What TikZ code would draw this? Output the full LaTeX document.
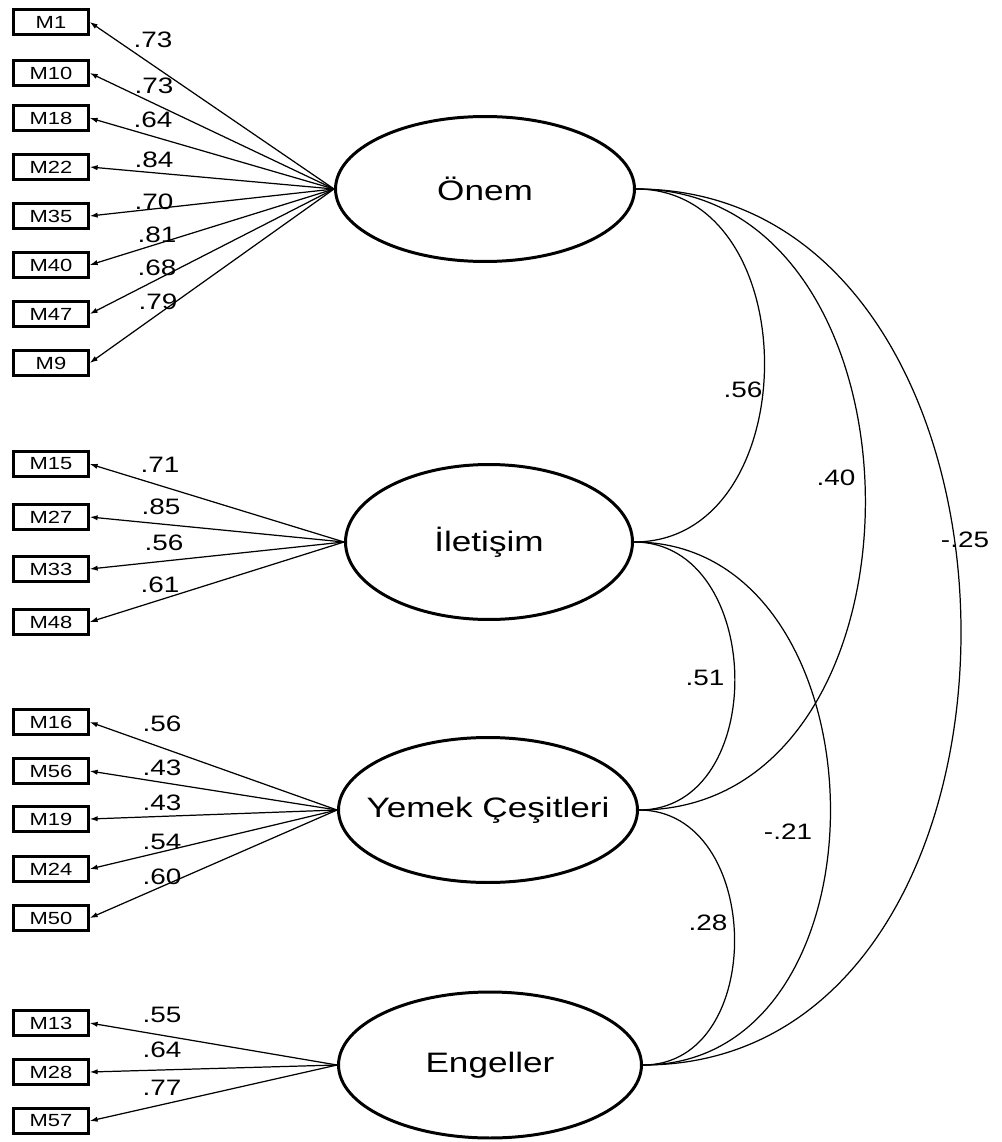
\documentclass[tikz,border=0pt]{standalone}
\usepackage{fontspec}
\setmainfont{Liberation Sans}[FakeStretch=1.25]
\usetikzlibrary{shapes.geometric,arrows.meta,positioning}

\tikzset{
  item/.style={draw, line width=1.4pt, minimum width=1.5cm, minimum height=0.5cm,
    inner sep=0pt, font=\fontsize{10}{12}\selectfont},
  factor/.style={draw, ellipse, line width=1.7pt, inner sep=0pt},
  factorname/.style={font=\fontsize{16}{19}\selectfont},
  load/.style={-{Latex[length=4.5pt,width=3pt]}, line width=0.7pt},
  corr/.style={line width=0.7pt, out=0, in=0, looseness=1.25},
  coef/.style={inner sep=0pt, font=\fontsize{12.7}{15}\selectfont}
}

\begin{document}
\begin{tikzpicture}[x=0.02cm, y=-0.02cm]
    \useasboundingbox (0,0) rectangle (1001,1142);

    % --- LATENS FAKTOROK ---
    \node[factor, minimum width=5.98cm, minimum height=2.9cm,
        label={[factorname]center:Önem}] (onem) at (485,189) {};
    \node[factor, minimum width=5.74cm, minimum height=3.1cm,
        label={[factorname]center:İletişim}] (ilet) at (489,542) {};
    \node[factor, minimum width=5.98cm, minimum height=2.9cm,
        label={[factorname]center:Yemek Çeşitleri}] (yemek) at (488,810) {};
    \node[factor, minimum width=6.06cm, minimum height=2.92cm,
        label={[factorname]center:Engeller}] (engel) at (490,1065) {};

    % --- Önem indikátorai ---
    \foreach \nm/\yy/\lab/\lx/\ly in {M1/22/.73/153/40, M10/73/.73/154/86, M18/118/.64/153/120,
        M22/167/.84/154/160, M35/216/.70/154/202, M40/265/.81/157/235,
        M47/314/.68/157/268, M9/363/.79/158/302}
    {
        \node[item] (\nm) at (51,\yy) {\nm};
        \draw[load] (onem.west) -- (\nm.east);
        \node[coef] at (\lx,\ly) {\lab};
    }

    % --- İletişim indikátorai ---
    \foreach \nm/\yy/\lab/\lx/\ly in {M15/464/.71/160/465, M27/517/.85/161/507,
        M33/569/.56/164/543, M48/622/.61/160/585}
    {
        \node[item] (\nm) at (51,\yy) {\nm};
        \draw[load] (ilet.west) -- (\nm.east);
        \node[coef] at (\lx,\ly) {\lab};
    }

    % --- Yemek Çeşitleri indikátorai ---
    \foreach \nm/\yy/\lab/\lx/\ly in {M16/722/.56/162/724, M56/771/.43/162/768,
        M19/819/.43/162/803, M24/869/.54/162/842, M50/918/.60/162/877}
    {
        \node[item] (\nm) at (51,\yy) {\nm};
        \draw[load] (yemek.west) -- (\nm.east);
        \node[coef] at (\lx,\ly) {\lab};
    }

    % --- Engeller indikátorai ---
    \foreach \nm/\yy/\lab/\lx/\ly in {M13/1023/.55/162/1015, M28/1072/.64/162/1050,
        M57/1121/.77/162/1088}
    {
        \node[item] (\nm) at (51,\yy) {\nm};
        \draw[load] (engel.west) -- (\nm.east);
        \node[coef] at (\lx,\ly) {\lab};
    }

    % --- Korrelációk ---
    \draw[corr] (onem.east) to (ilet.east);
    \draw[corr] (onem.east) to (yemek.east);
    \draw[corr] (onem.east) to (engel.east);
    \draw[corr] (ilet.east) to (yemek.east);
    \draw[corr] (ilet.east) to (engel.east);
    \draw[corr] (yemek.east) to (engel.east);

    \node[coef] at (743,390) {.56};
    \node[coef] at (836,478) {.40};
    \node[coef] at (965,540) {-.25};
    \node[coef] at (705,678) {.51};
    \node[coef] at (788,832) {-.21};
    \node[coef] at (708,923) {.28};

\end{tikzpicture}
\end{document}
